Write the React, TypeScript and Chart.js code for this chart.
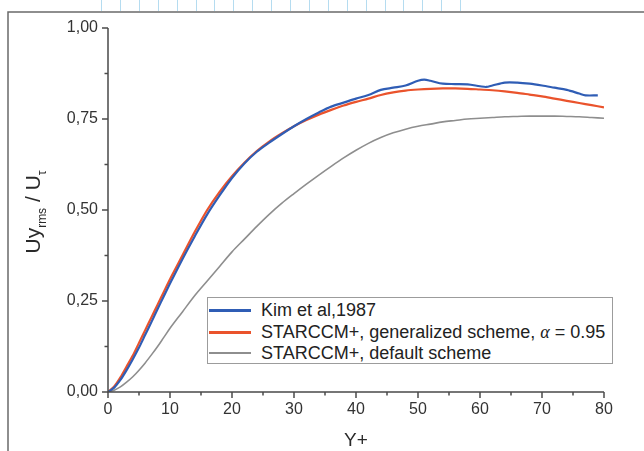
import React, { useEffect, useRef } from 'react';
import { Chart, registerables } from 'chart.js';

Chart.register(...registerables);

// Kim et al, 1987 (DNS)
const kimX = [0, 1, 2, 3, 4, 5, 6, 7, 8, 9, 10, 12, 14, 16, 18, 20, 22, 24, 26, 28, 30, 32, 34, 36, 38, 40, 42, 44, 46, 48, 50, 51, 52, 54, 56, 58, 60, 61, 62, 64, 66, 68, 70, 72, 74, 76, 77, 79];
const kimY = [0, 0.012, 0.033, 0.06, 0.09, 0.122, 0.157, 0.192, 0.228, 0.263, 0.298, 0.365, 0.428, 0.488, 0.54, 0.588, 0.628, 0.66, 0.685, 0.708, 0.73, 0.75, 0.768, 0.784, 0.795, 0.806, 0.816, 0.83, 0.836, 0.842, 0.855, 0.858, 0.855, 0.847, 0.846, 0.845, 0.84, 0.838, 0.842, 0.85, 0.85, 0.847, 0.842, 0.836, 0.83, 0.82, 0.815, 0.815];

// STARCCM+ curves
const simX = [0, 1, 2, 3, 4, 5, 6, 7, 8, 9, 10, 12, 14, 16, 18, 20, 22, 24, 26, 28, 30, 32, 34, 36, 38, 40, 42, 44, 46, 48, 50, 52, 54, 56, 58, 60, 62, 64, 66, 68, 70, 72, 74, 76, 78, 80];
const genY = [0, 0.015, 0.04, 0.07, 0.1, 0.135, 0.17, 0.205, 0.24, 0.275, 0.31, 0.375, 0.44, 0.5, 0.55, 0.593, 0.63, 0.662, 0.688, 0.71, 0.73, 0.747, 0.762, 0.775, 0.787, 0.797, 0.806, 0.816, 0.823, 0.828, 0.831, 0.833, 0.834, 0.834, 0.833, 0.831, 0.829, 0.826, 0.822, 0.817, 0.812, 0.806, 0.8, 0.794, 0.788, 0.782];
const defY = [0, 0.005, 0.014, 0.027, 0.042, 0.06, 0.08, 0.102, 0.125, 0.15, 0.175, 0.22, 0.265, 0.305, 0.345, 0.385, 0.42, 0.455, 0.488, 0.518, 0.545, 0.571, 0.596, 0.62, 0.643, 0.664, 0.683, 0.699, 0.712, 0.722, 0.73, 0.736, 0.742, 0.746, 0.75, 0.752, 0.754, 0.756, 0.757, 0.758, 0.758, 0.758, 0.757, 0.756, 0.754, 0.752];

const seriesNames = ['Kim et al,1987', 'STARCCM+, generalized scheme, ', 'STARCCM+, default scheme'];
const seriesColors = ['#2f5db5', '#ea532c', '#8e8e8e'];
const xMajorTicks = [0, 10, 20, 30, 40, 50, 60, 70, 80];
const yMajorTicks = [0, 0.25, 0.5, 0.75, 1.0];
const xTitle = 'Y+';

const FONT = '"Liberation Sans", Arial, sans-serif';

const decorPlugin = {
  id: 'decor',
  afterDraw(chart: any) {
    const ctx = chart.ctx;
    const xs = chart.scales.x;
    const ys = chart.scales.y;
    const area = chart.chartArea;
    ctx.save();
    // light blue marks at very top (scan artifacts)
    ctx.strokeStyle = '#b5dcf0';
    ctx.lineWidth = 1;
    for (let i = 0; i < 20; i++) {
      const px = Math.round(101 + i * 18.9) + 0.5;
      ctx.beginPath();
      ctx.moveTo(px, 0);
      ctx.lineTo(px, 11);
      ctx.stroke();
    }
    // outer frame
    ctx.strokeStyle = '#6a6a6a';
    ctx.lineWidth = 1.5;
    ctx.beginPath();
    ctx.moveTo(8, 451);
    ctx.lineTo(8, 12);
    ctx.lineTo(644, 12);
    ctx.stroke();
    // axes
    ctx.strokeStyle = '#4a4a4a';
    ctx.lineWidth = 1.5;
    ctx.beginPath();
    ctx.moveTo(area.left, area.top);
    ctx.lineTo(area.left, area.bottom);
    ctx.lineTo(area.right, area.bottom);
    ctx.stroke();
    // x ticks
    for (let v = 0; v <= 80; v += 5) {
      const px = xs.getPixelForValue(v);
      const len = v % 10 === 0 ? 6 : 3.5;
      ctx.beginPath();
      ctx.moveTo(px, area.bottom);
      ctx.lineTo(px, area.bottom + len);
      ctx.stroke();
    }
    // y ticks
    for (let k = 0; k <= 8; k++) {
      const v = k * 0.125;
      const py = ys.getPixelForValue(v);
      const len = k % 2 === 0 ? 6 : 3.5;
      ctx.beginPath();
      ctx.moveTo(area.left, py);
      ctx.lineTo(area.left - len, py);
      ctx.stroke();
    }
    // x title
    ctx.fillStyle = '#2a2a2a';
    ctx.font = `19px ${FONT}`;
    ctx.textAlign = 'center';
    ctx.textBaseline = 'middle';
    ctx.fillText(xTitle, (area.left + area.right) / 2, 441);
    // y title with subscripts
    ctx.translate(33, 212);
    ctx.rotate(-Math.PI / 2);
    const big = `21px ${FONT}`;
    const small = `12px ${FONT}`;
    const parts: [string, string, number][] = [
      ['Uy', big, 0],
      ['rms', small, 6],
      [' / U', big, 0],
      ['\u03C4', small, 6],
    ];
    let total = 0;
    for (const [t, f] of parts) {
      ctx.font = f;
      total += ctx.measureText(t).width;
    }
    let cx = -total / 2;
    ctx.textAlign = 'left';
    ctx.textBaseline = 'alphabetic';
    for (const [t, f, dy] of parts) {
      ctx.font = f;
      ctx.fillText(t, cx, 7 + dy);
      cx += ctx.measureText(t).width;
    }
    ctx.restore();
  },
};

export default function App() {
  const canvasRef = useRef<HTMLCanvasElement | null>(null);

  useEffect(() => {
    const canvas = canvasRef.current;
    if (!canvas) return;
    const chart = new Chart(canvas, {
      type: 'line',
      data: {
        datasets: [
          {
            label: seriesNames[0],
            data: kimX.map((x, i) => ({ x, y: kimY[i] })),
            borderColor: seriesColors[0],
            borderWidth: 2.2,
            pointRadius: 0,
            tension: 0.3,
            order: 1,
          },
          {
            label: seriesNames[1],
            data: simX.map((x, i) => ({ x, y: genY[i] })),
            borderColor: seriesColors[1],
            borderWidth: 2.2,
            pointRadius: 0,
            tension: 0.3,
            order: 2,
          },
          {
            label: seriesNames[2],
            data: simX.map((x, i) => ({ x, y: defY[i] })),
            borderColor: seriesColors[2],
            borderWidth: 1.6,
            pointRadius: 0,
            cubicInterpolationMode: 'monotone',
            order: 3,
          },
        ],
      },
      options: {
        animation: false,
        responsive: false,
        devicePixelRatio: 1,
        layout: { padding: { left: 0, top: 28, right: 40, bottom: 0 } },
        plugins: { legend: { display: false }, tooltip: { enabled: false } },
        scales: {
          x: {
            type: 'linear',
            min: 0,
            max: 80,
            afterFit: (s: any) => { s.height = 59; },
            afterBuildTicks: (s: any) => { s.ticks = xMajorTicks.map((v) => ({ value: v })); },
            grid: { display: false, drawTicks: false },
            border: { display: false },
            ticks: { color: '#333', font: { family: FONT, size: 16 }, padding: 8, maxRotation: 0 },
          },
          y: {
            type: 'linear',
            min: 0,
            max: 1,
            afterFit: (s: any) => { s.width = 108; },
            afterBuildTicks: (s: any) => { s.ticks = yMajorTicks.map((v) => ({ value: v })); },
            grid: { display: false, drawTicks: false },
            border: { display: false },
            ticks: {
              color: '#333',
              font: { family: FONT, size: 16 },
              padding: 10,
              callback: (v: any) => Number(v).toFixed(2).replace('.', ','),
            },
          },
        },
      },
      plugins: [decorPlugin],
    } as any);
    return () => chart.destroy();
  }, []);

  const rowTops = [12, 34, 55];
  return (
    <div style={{ position: 'absolute', left: 0, top: 0, width: 644, height: 451, background: '#fff', overflow: 'hidden' }}>
      <canvas ref={canvasRef} width={644} height={451} style={{ position: 'absolute', left: 0, top: 0 }} />
      <div
        style={{
          position: 'absolute',
          left: 207,
          top: 297,
          width: 404,
          height: 65,
          border: '1px solid #9c9c9c',
          background: '#fff',
          fontFamily: FONT,
          fontSize: 18,
          color: '#222',
        }}
      >
        {seriesNames.map((name, i) => (
          <div key={i} style={{ position: 'absolute', left: 0, top: rowTops[i] - 10, height: 20, width: 404 }}>
            <div
              style={{
                position: 'absolute',
                left: 1,
                top: 9,
                width: 42,
                height: i === 2 ? 1.5 : 2.5,
                background: seriesColors[i],
              }}
            />
            <div style={{ position: 'absolute', left: 53, top: 0, lineHeight: '20px', whiteSpace: 'nowrap' }}>
              {name}
              {i === 1 ? (
                <>
                  <span style={{ fontFamily: '"Liberation Serif", serif', fontStyle: 'italic' }}>{'\u03B1'}</span>
                  {' = 0.95'}
                </>
              ) : null}
            </div>
          </div>
        ))}
      </div>
    </div>
  );
}
